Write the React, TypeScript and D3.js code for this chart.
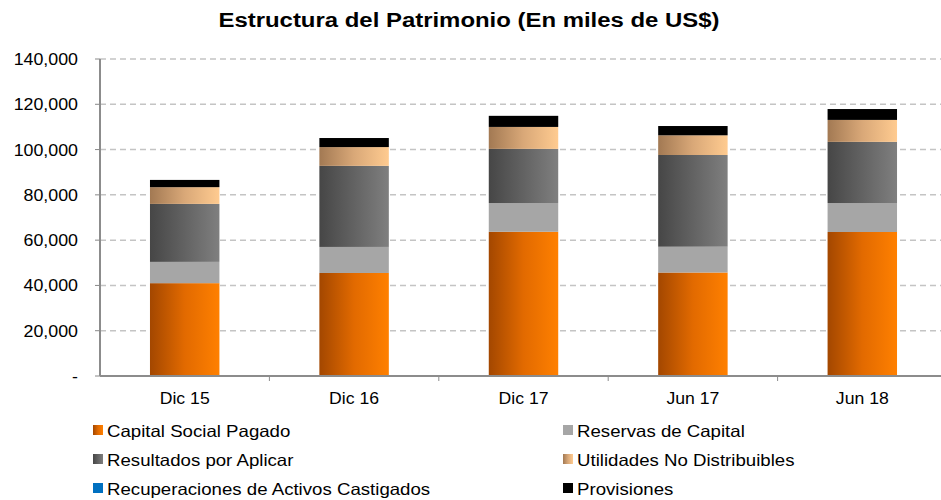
import React from "react";
import * as d3 from "d3";

const categories = ["Dic 15", "Dic 16", "Dic 17", "Jun 17", "Jun 18"];
const capitalSocial = [41000, 45500, 63700, 45700, 63600];
const reservas = [9400, 11500, 12700, 11400, 12800];
const resultados = [25600, 35800, 23900, 40500, 27000];
const utilidades = [7400, 8300, 9700, 8700, 9700];
const recuperaciones = [0, 0, 0, 0, 0];
const provisiones = [3200, 4000, 4900, 4100, 4800];
const yTicks = [0, 20000, 40000, 60000, 80000, 100000, 120000, 140000];

const seriesNames = [
  "Capital Social Pagado",
  "Reservas de Capital",
  "Resultados por Aplicar",
  "Utilidades No Distribuibles",
  "Recuperaciones de Activos Castigados",
  "Provisiones",
];
const seriesValues = [capitalSocial, reservas, resultados, utilidades, recuperaciones, provisiones];
const fills = ["url(#gOrange)", "#a6a6a6", "url(#gGray)", "url(#gTan)", "#0070c0", "#000000"];

const W = 941;
const H = 500;
const left = 100;
const top = 59;
const bottom = 376;

function SText(props: { x: number; y: number; size: number; sx: number; anchor?: string; bold?: boolean; children: any }) {
  return (
    <g transform={`translate(${props.x},${props.y}) scale(${props.sx},1)`}>
      <text x={0} y={0} textAnchor={props.anchor || "start"} fontSize={props.size} fontWeight={props.bold ? "bold" : "normal"} fill="#000">
        {props.children}
      </text>
    </g>
  );
}

export default function App() {
  const x = d3.scaleBand<string>().domain(categories).range([left, 947]).padding(0);
  const y = d3.scaleLinear().domain([0, 140000]).range([bottom, top]);
  const keys = seriesNames;
  const rows = categories.map((c, i) => {
    const r: any = { cat: c };
    keys.forEach((k, j) => (r[k] = seriesValues[j][i]));
    return r;
  });
  const stacked = d3.stack<any>().keys(keys)(rows);
  const bw = x.bandwidth() * 0.41;
  const fmt = d3.format(",");
  const font = "'Liberation Sans', Arial, sans-serif";

  const legendPos = [
    [93, 430], [563, 430],
    [93, 459], [563, 459],
    [93, 488], [563, 488],
  ];

  return (
    <svg width={W} height={H} style={{ position: "absolute", left: 0, top: 0, background: "#fff" }} fontFamily={font}>
      <defs>
        <linearGradient id="gOrange" x1="0" x2="1" y1="0" y2="0">
          <stop offset="0" stopColor="#a34700" />
          <stop offset="0.5" stopColor="#e26a00" />
          <stop offset="1" stopColor="#ff8000" />
        </linearGradient>
        <linearGradient id="gGray" x1="0" x2="1" y1="0" y2="0">
          <stop offset="0" stopColor="#464646" />
          <stop offset="1" stopColor="#7f7f7f" />
        </linearGradient>
        <linearGradient id="gTan" x1="0" x2="1" y1="0" y2="0">
          <stop offset="0" stopColor="#a27953" />
          <stop offset="0.5" stopColor="#d9a878" />
          <stop offset="1" stopColor="#ffcb90" />
        </linearGradient>
      </defs>
      <SText x={469} y={27} size={21} sx={1.14} anchor="middle" bold>
        Estructura del Patrimonio (En miles de US$)
      </SText>
      {yTicks.filter((t) => t > 0).map((t) => (
        <line key={"g" + t} x1={left} x2={W} y1={y(t)} y2={y(t)} stroke="#c4c4c4" strokeWidth={1.5} strokeDasharray="6,4" />
      ))}
      {yTicks.map((t) => (
        <g key={"t" + t}>
          <line x1={95} x2={left} y1={y(t)} y2={y(t)} stroke="#888" strokeWidth={1} />
          <SText x={78} y={y(t) + 6} size={16.5} sx={1.08} anchor="end">
            {t === 0 ? "-" : fmt(t)}
          </SText>
        </g>
      ))}
      {stacked.map((s, si) => (
        <g key={s.key} fill={fills[si]}>
          {s.map((d, i) => {
            const h = y(d[0]) - y(d[1]);
            if (h <= 0) return null;
            return (
              <rect key={i} x={(x(categories[i]) as number) + (x.bandwidth() - bw) / 2} y={y(d[1])} width={bw} height={h} />
            );
          })}
        </g>
      ))}
      <line x1={left} x2={left} y1={top} y2={bottom} stroke="#8c8c8c" strokeWidth={2} />
      <line x1={left} x2={W} y1={bottom} y2={bottom} stroke="#8c8c8c" strokeWidth={2} />
      {categories.map((c, i) => (
        <g key={c}>
          {i > 0 && (
            <line x1={x(c) as number} x2={x(c) as number} y1={bottom} y2={bottom + 5} stroke="#8c8c8c" strokeWidth={1} />
          )}
          <SText x={(x(c) as number) + x.bandwidth() / 2} y={403.5} size={16.5} sx={1.07} anchor="middle">
            {c}
          </SText>
        </g>
      ))}
      {seriesNames.map((n, i) => (
        <g key={n}>
          <rect x={legendPos[i][0]} y={legendPos[i][1] - 5} width={10} height={10} fill={fills[i]} />
          <SText x={legendPos[i][0] + 14} y={legendPos[i][1] + 6.5} size={16.5} sx={1.13}>
            {n}
          </SText>
        </g>
      ))}
    </svg>
  );
}
